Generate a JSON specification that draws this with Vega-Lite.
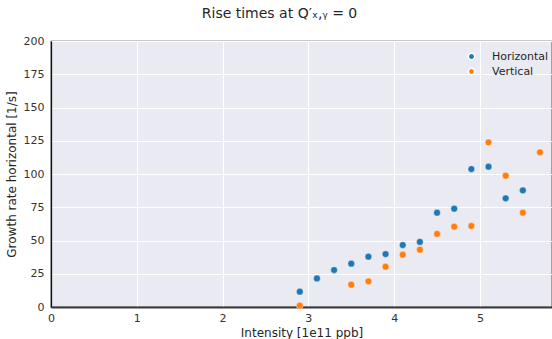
{
  "$schema": "https://vega.github.io/schema/vega-lite/v6.json",
  "autosize": {"type": "none"},
  "padding": {"left": 51, "top": 41, "right": 0, "bottom": 32},
  "width": 501,
  "height": 266,
  "background": "white",
  "title": {
    "text": "Rise times at Q′ₓ,ᵧ = 0",
    "font": "DejaVu Sans",
    "fontSize": 14,
    "fontWeight": "normal",
    "color": "#262626",
    "anchor": "middle",
    "dx": -22,
    "offset": 14
  },
  "config": {
    "font": "DejaVu Sans",
    "view": {"fill": "#EAEAF2", "stroke": "#262626", "strokeWidth": 1.25},
    "axis": {
      "labelFont": "DejaVu Sans",
      "labelFontSize": 11,
      "labelColor": "#333333",
      "labelFlush": false,
      "titleFont": "DejaVu Sans",
      "titleFontSize": 12,
      "titleFontWeight": "normal",
      "titleColor": "#262626",
      "gridColor": "white",
      "gridWidth": 1,
      "ticks": false
    }
  },
  "data": {
    "values": [
      {"intensity": 2.9, "rate": 11.5, "plane": "Horizontal"},
      {"intensity": 3.1, "rate": 21.5, "plane": "Horizontal"},
      {"intensity": 3.3, "rate": 27.8, "plane": "Horizontal"},
      {"intensity": 3.5, "rate": 32.6, "plane": "Horizontal"},
      {"intensity": 3.7, "rate": 37.8, "plane": "Horizontal"},
      {"intensity": 3.9, "rate": 39.8, "plane": "Horizontal"},
      {"intensity": 4.1, "rate": 46.6, "plane": "Horizontal"},
      {"intensity": 4.3, "rate": 48.9, "plane": "Horizontal"},
      {"intensity": 4.5, "rate": 70.9, "plane": "Horizontal"},
      {"intensity": 4.7, "rate": 73.9, "plane": "Horizontal"},
      {"intensity": 4.9, "rate": 103.7, "plane": "Horizontal"},
      {"intensity": 5.1, "rate": 105.5, "plane": "Horizontal"},
      {"intensity": 5.3, "rate": 81.7, "plane": "Horizontal"},
      {"intensity": 5.5, "rate": 87.7, "plane": "Horizontal"},
      {"intensity": 2.9, "rate": 1.0, "plane": "Vertical"},
      {"intensity": 3.5, "rate": 16.8, "plane": "Vertical"},
      {"intensity": 3.7, "rate": 19.3, "plane": "Vertical"},
      {"intensity": 3.9, "rate": 30.3, "plane": "Vertical"},
      {"intensity": 4.1, "rate": 39.3, "plane": "Vertical"},
      {"intensity": 4.3, "rate": 43.1, "plane": "Vertical"},
      {"intensity": 4.5, "rate": 54.9, "plane": "Vertical"},
      {"intensity": 4.7, "rate": 60.4, "plane": "Vertical"},
      {"intensity": 4.9, "rate": 60.9, "plane": "Vertical"},
      {"intensity": 5.1, "rate": 123.8, "plane": "Vertical"},
      {"intensity": 5.3, "rate": 98.7, "plane": "Vertical"},
      {"intensity": 5.5, "rate": 70.9, "plane": "Vertical"},
      {"intensity": 5.7, "rate": 116.3, "plane": "Vertical"}
    ]
  },
  "mark": {"type": "point", "filled": true, "opacity": 1, "size": 46, "stroke": "white", "strokeWidth": 0.4},
  "encoding": {
    "x": {
      "field": "intensity",
      "type": "quantitative",
      "title": "Intensity [1e11 ppb]",
      "scale": {"domain": [0, 5.84], "nice": false, "zero": false},
      "axis": {"values": [0, 1, 2, 3, 4, 5], "labelPadding": 5, "titlePadding": 4, "domainColor": "#3a3a3a", "domainWidth": 2}
    },
    "y": {
      "field": "rate",
      "type": "quantitative",
      "title": "Growth rate horizontal [1/s]",
      "scale": {"domain": [0, 200], "nice": false},
      "axis": {"values": [0, 25, 50, 75, 100, 125, 150, 175, 200], "labelPadding": 7, "titlePadding": 5, "domainColor": "#111111", "domainWidth": 1.25}
    },
    "color": {
      "field": "plane",
      "type": "nominal",
      "scale": {"domain": ["Horizontal", "Vertical"], "range": ["#1f77b4", "#ff7f0e"]},
      "legend": {
        "title": null,
        "orient": "none",
        "legendX": 415,
        "legendY": 10,
        "symbolType": "circle",
        "symbolSize": 40,
        "labelFontSize": 11,
        "labelColor": "#262626",
        "labelOffset": 15,
        "rowPadding": 2,
        "padding": 0
      }
    }
  }
}
